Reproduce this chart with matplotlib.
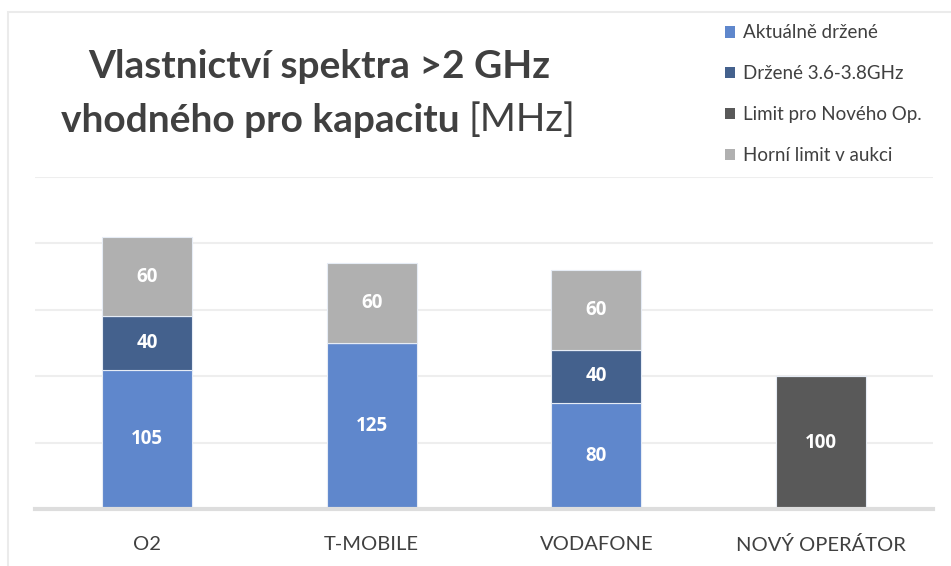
import matplotlib
matplotlib.use("Agg")
import matplotlib.pyplot as plt
from matplotlib.patches import Rectangle

categories = ["O2", "T-MOBILE", "VODAFONE", "NOVÝ OPERÁTOR"]
aktualne = [105, 125, 80, 0]
drzene = [40, 0, 40, 0]
limit_novy = [0, 0, 0, 100]
horni = [60, 60, 60, 0]
series_names = ["Aktuálně držené", "Držené 3.6-3.8GHz", "Limit pro Nového Op.", "Horní limit v aukci"]
colors = ["#5f87cc", "#44618d", "#595959", "#b0b0b0"]

plt.rcParams['font.family'] = ['Lato', 'DejaVu Sans']
W, H = 951, 566
fig = plt.figure(figsize=(W/100, H/100), dpi=100)
# faint frame
fig.patches.append(Rectangle((8/W, -0.1), 1.2, (H-12)/H + 0.1, transform=fig.transFigure,
                             fill=False, edgecolor="#ebebeb", linewidth=1.5))

ax = fig.add_axes([35/W, 1-509/H, (933-35)/W, (509-177)/H])
x = list(range(len(categories)))
series = [aktualne, drzene, limit_novy, horni]
bottom = [0]*len(categories)
for vals, name, c in zip(series, series_names, colors):
    bars = ax.bar(x, vals, 0.4, bottom=bottom, color=c, edgecolor="#e6ecf5", linewidth=0.8,
                  label=name, zorder=3)
    for xi, v, b in zip(x, vals, bottom):
        if v > 0:
            ax.text(xi, b + v/2, str(v), ha="center", va="center", color="white",
                    fontsize=13.5, fontweight="bold", family=["Open Sans", "DejaVu Sans"],
                    zorder=4)
    bottom = [b + v for b, v in zip(bottom, vals)]

ax.set_xlim(-0.5, 3.5)
ax.set_ylim(0, 250)
ax.set_yticks([0, 50, 100, 150, 200, 250])
ax.yaxis.grid(True, color="#eeeeee", linewidth=1.5, zorder=0)
ax.set_axisbelow(True)
ax.tick_params(axis="y", left=False, labelleft=False)
ax.tick_params(axis="x", bottom=False, labelsize=14.5, labelcolor="#404040", pad=16)
ax.set_xticks(x)
ax.set_xticklabels(categories)
for s in ["top", "right", "left"]:
    ax.spines[s].set_visible(False)
ax.spines["bottom"].set_color("#dddddd")
ax.spines["bottom"].set_linewidth(3)
ax.spines["bottom"].set_zorder(5)

# title
fig.text(319/W, 1-67/H, "Vlastnictví spektra >2 GHz", ha="center", va="center",
         fontsize=28, fontweight="bold", color="#404040")
t1 = fig.text(0, 1-120/H, "vhodného pro kapacitu ", ha="left", va="center",
              fontsize=28, fontweight="bold", color="#404040")
t2 = fig.text(0, 1-120/H, "[MHz]", ha="left", va="center",
              fontsize=28, fontweight="normal", color="#404040")
fig.canvas.draw()
r = fig.canvas.get_renderer()
w1 = t1.get_window_extent(r).width
w2 = t2.get_window_extent(r).width
start = 318 - (w1 + w2)/2
t1.set_x(start/W)
t2.set_x((start + w1)/W)

# legend
handles, labels = ax.get_legend_handles_labels()
leg = fig.legend(handles, labels, loc="upper left", bbox_to_anchor=(717/W, 1-17/H),
                 frameon=False, fontsize=13.5, labelcolor="#404040", handlelength=0.55,
                 handleheight=0.55, handletextpad=0.45, labelspacing=1.27, borderaxespad=0)
for h in leg.legend_handles:
    h.set_edgecolor("none")

fig.savefig("out.png", dpi=100)
